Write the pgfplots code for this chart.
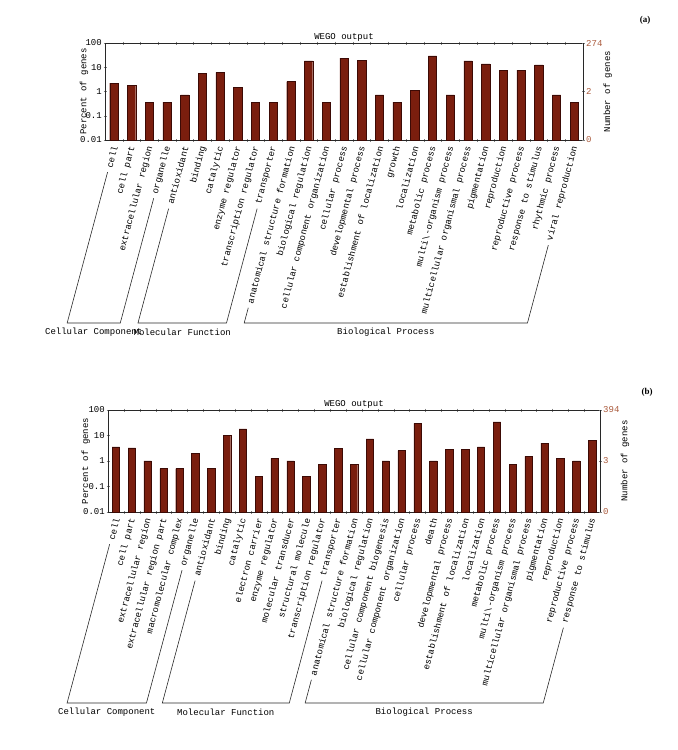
\documentclass[border=0pt]{standalone}
\usepackage{fontspec}
\setmainfont{Liberation Mono}
\newfontfamily\labfont{Liberation Serif}
\usepackage{pgfplots}
\pgfplotsset{compat=1.18}
\usetikzlibrary{calc}
\definecolor{barfill}{RGB}{122,30,14}
\definecolor{baredge}{RGB}{60,10,5}
\definecolor{rtick}{RGB}{170,90,60}
\definecolor{axisgray}{RGB}{40,40,40}
\begin{document}
\fontsize{9bp}{10.8bp}\selectfont
\begin{tikzpicture}
\path[use as bounding box] (0,0) rectangle (678bp,-750bp);
% ---------------- (a)
\begin{axis}[scale only axis, ymode=log, ymin=0.01, ymax=100, log origin=infty,
  ybar, axis line style={axisgray},
  ytick={0.01,0.1,1,10,100}, yticklabels={0.01,0.1,1,10,100},
  yticklabel style={inner sep=1.5bp},
  yminorticks=false, ytick pos=left,
  major x tick style={draw=none},
  tick align=center, major tick length=3bp, minor tick length=3bp,
  xticklabel style={xshift=1bp, yshift=-5bp, rotate=75, anchor=east, inner sep=0pt},
  ylabel={Percent of genes}, title={WEGO output},
  title style={at={(0.5,1)}, anchor=south, inner sep=2bp, yshift=-7bp},
  at={(105bp,-140bp)}, anchor=south west, width=478bp, height=97bp,
  xmin=0.5, xmax=27.5, bar width=8.3bp,
  xtick={1,...,27},
  xticklabels={cell, cell part, extracellular region, organelle, antioxidant, binding, catalytic, enzyme regulator, transcription regulator, transporter, anatomical structure formation, biological regulation, cellular component organization, cellular process, developmental process, establishment of localization, growth, localization, metabolic process, multi\textbackslash-organism process, multicellular organismal process, pigmentation, reproduction, reproductive process, response to stimulus, rhythmic process, viral reproduction},
  minor xtick={1.5,2.5,...,26.5},
  ylabel style={at={(axis description cs:-0.044,0.5)}, anchor=center},
]
\addplot[fill=barfill, draw=baredge] coordinates {
(1,2.190) (2,1.825) (3,0.365) (4,0.365) (5,0.730) (6,5.474) (7,6.204) (8,1.460) (9,0.365)
(10,0.365) (11,2.555) (12,18.248) (13,0.365) (14,23.723) (15,19.343) (16,0.730) (17,0.365)
(18,1.095) (19,29.197) (20,0.730) (21,18.248) (22,13.869) (23,7.664) (24,7.664) (25,12.409)
(26,0.730) (27,0.365)};
\coordinate (a1) at (axis cs:1,0.01);
\coordinate (a4) at (axis cs:4,0.01);
\coordinate (a5) at (axis cs:5,0.01);
\coordinate (a10) at (axis cs:10,0.01);
\coordinate (a11) at (axis cs:11,0.01);
\coordinate (a27) at (axis cs:27,0.01);
\end{axis}
\begin{axis}[scale only axis, ymode=log, ymin=0.01, ymax=100,
  axis y line*=right, axis x line=none, xmin=0, xmax=1,
  yminorticks=false, axis line style={axisgray},
  tick align=center, major tick length=3bp,
  yticklabel style={text=rtick, inner sep=1.5bp},
  ylabel={Number of genes},
  at={(105bp,-140bp)}, anchor=south west, width=478bp, height=97bp,
  ytick={0.01,1,100}, yticklabels={0,2,274},
  ylabel style={at={(axis description cs:1.052,0.5)}, anchor=center},
]
\addplot[draw=none] coordinates {(0.5,1)};
\end{axis}
% ---------------- (b)
\begin{axis}[scale only axis, ymode=log, ymin=0.01, ymax=100, log origin=infty,
  ybar, axis line style={axisgray},
  ytick={0.01,0.1,1,10,100}, yticklabels={0.01,0.1,1,10,100},
  yticklabel style={inner sep=1.5bp},
  yminorticks=false, ytick pos=left,
  major x tick style={draw=none},
  tick align=center, major tick length=3bp, minor tick length=3bp,
  xticklabel style={xshift=1bp, yshift=-5bp, rotate=75, anchor=east, inner sep=0pt},
  ylabel={Percent of genes}, title={WEGO output},
  title style={at={(0.5,1)}, anchor=south, inner sep=2bp, yshift=-7bp},
  at={(108bp,-512bp)}, anchor=south west, width=492bp, height=102bp,
  xmin=0.5, xmax=31.5, bar width=7.4bp,
  xtick={1,...,31},
  xticklabels={cell, cell part, extracellular region, extracellular region part, macromolecular complex, organelle, antioxidant, binding, catalytic, electron carrier, enzyme regulator, molecular transducer, structural molecule, transcription regulator, transporter, anatomical structure formation, biological regulation, cellular component biogenesis, cellular component organization, cellular process, death, developmental process, establishment of localization, localization, metabolic process, multi\textbackslash-organism process, multicellular organismal process, pigmentation, reproduction, reproductive process, response to stimulus},
  minor xtick={1.5,2.5,...,30.5},
  ylabel style={at={(axis description cs:-0.045,0.5)}, anchor=center},
]
\addplot[fill=barfill, draw=baredge] coordinates {
(1,3.553) (2,3.299) (3,1.015) (4,0.508) (5,0.508) (6,2.030) (7,0.508) (8,10.406) (9,18.274)
(10,0.254) (11,1.269) (12,1.015) (13,0.254) (14,0.761) (15,3.046) (16,0.761) (17,7.360)
(18,1.015) (19,2.538) (20,29.695) (21,1.015) (22,2.792) (23,2.792) (24,3.553) (25,34.518)
(26,0.761) (27,1.523) (28,5.076) (29,1.269) (30,1.015) (31,6.345)};
\coordinate (b1) at (axis cs:1,0.01);
\coordinate (b6) at (axis cs:6,0.01);
\coordinate (b7) at (axis cs:7,0.01);
\coordinate (b15) at (axis cs:15,0.01);
\coordinate (b16) at (axis cs:16,0.01);
\coordinate (b31) at (axis cs:31,0.01);
\end{axis}
\begin{axis}[scale only axis, ymode=log, ymin=0.01, ymax=100,
  axis y line*=right, axis x line=none, xmin=0, xmax=1,
  yminorticks=false, axis line style={axisgray},
  tick align=center, major tick length=3bp,
  yticklabel style={text=rtick, inner sep=1.5bp},
  ylabel={Number of genes},
  at={(108bp,-512bp)}, anchor=south west, width=492bp, height=102bp,
  ytick={0.01,1,100}, yticklabels={0,3,394},
  ylabel style={at={(axis description cs:1.051,0.5)}, anchor=center},
]
\addplot[draw=none] coordinates {(0.5,1)};
\end{axis}
% ---------------- group brackets
\begin{scope}[axisgray, line width=0.6pt]
\foreach \n in {a1,a4,a5,a10,a11,a27,b1,b6,b7,b15,b16,b31}
  {\coordinate (p\n) at ($(\n)+(1bp,-5bp)$);}
\draw ($(pa1)+(255:28.1bp)$) -- ($(pa1)+(255:184.3bp)$) coordinate (ea1)
   -- ($(pa4)+(255:184.3bp)$) coordinate (ea4) -- ($(pa4)+(255:55.1bp)$);
\draw ($(pa5)+(255:65.9bp)$) -- ($(pa5)+(255:184.3bp)$) coordinate (ea5)
   -- ($(pa10)+(255:184.3bp)$) coordinate (ea10) -- ($(pa10)+(255:65.9bp)$);
\draw ($(pa11)+(255:168.5bp)$) -- ($(pa11)+(255:184.3bp)$) coordinate (ea11)
   -- ($(pa27)+(255:184.3bp)$) coordinate (ea27) -- ($(pa27)+(255:103.7bp)$);
\draw ($(pb1)+(255:28.1bp)$) -- ($(pb1)+(255:192.6bp)$) coordinate (eb1)
   -- ($(pb6)+(255:192.6bp)$) coordinate (eb6) -- ($(pb6)+(255:55.1bp)$);
\draw ($(pb7)+(255:65.9bp)$) -- ($(pb7)+(255:192.6bp)$) coordinate (eb7)
   -- ($(pb15)+(255:192.6bp)$) coordinate (eb15) -- ($(pb15)+(255:65.9bp)$);
\draw ($(pb16)+(255:168.5bp)$) -- ($(pb16)+(255:192.6bp)$) coordinate (eb16)
   -- ($(pb31)+(255:192.6bp)$) coordinate (eb31) -- ($(pb31)+(255:114.5bp)$);
\end{scope}
\node at ($(ea1)!0.5!(ea4)+(0,-9bp)$) {Cellular Component};
\node at ($(ea5)!0.5!(ea10)+(0,-9bp)$) {Molecular Function};
\node at ($(ea11)!0.5!(ea27)+(0,-9bp)$) {Biological Process};
\node at ($(eb1)!0.5!(eb6)+(0,-9bp)$) {Cellular Component};
\node at ($(eb7)!0.5!(eb15)+(0,-9bp)$) {Molecular Function};
\node at ($(eb16)!0.5!(eb31)+(0,-9bp)$) {Biological Process};
\node[font=\labfont\bfseries] at (645bp,-20bp) {(a)};
\node[font=\labfont\bfseries] at (647bp,-392bp) {(b)};
\end{tikzpicture}
\end{document}
